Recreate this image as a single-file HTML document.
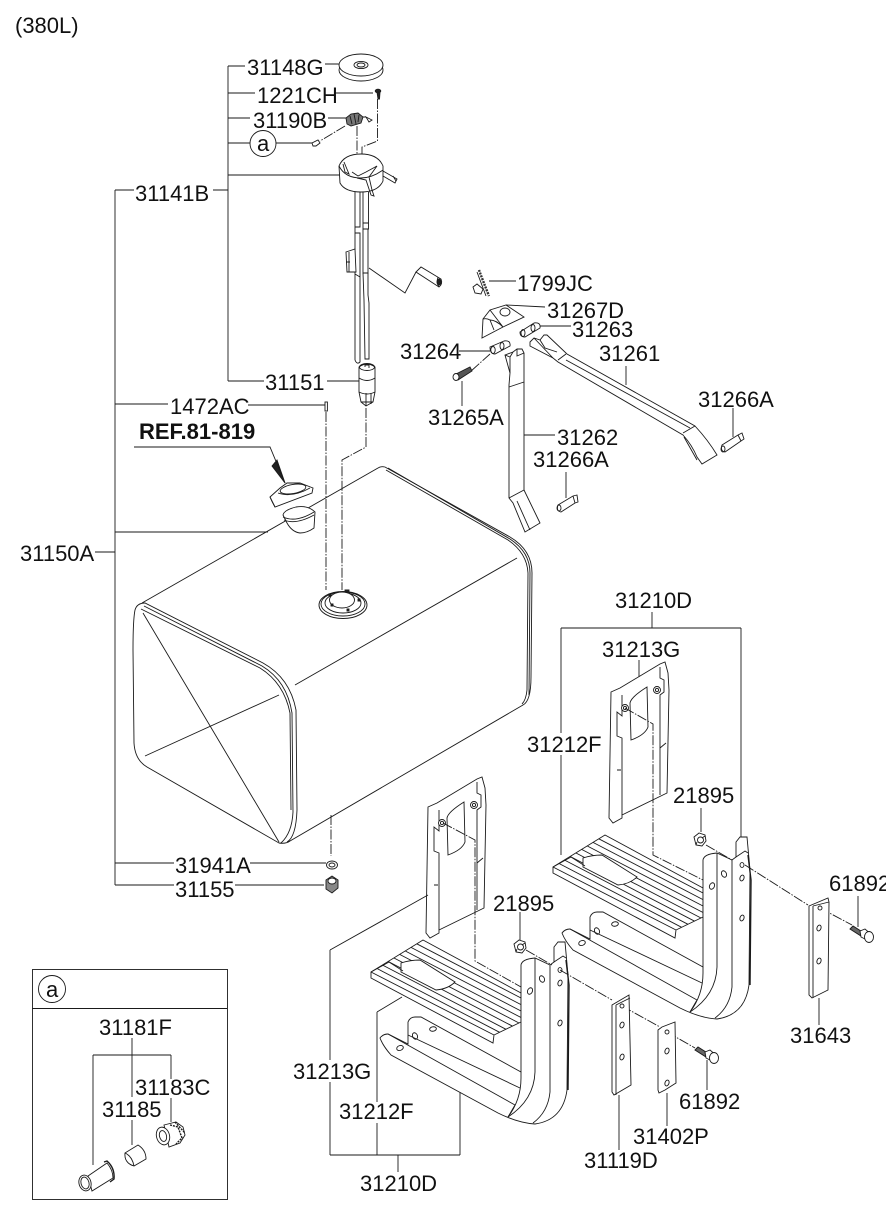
<!DOCTYPE html>
<html><head><meta charset="utf-8"><style>
html,body{margin:0;padding:0;background:#fff}
svg{display:block}
text{font-family:"Liberation Sans",sans-serif;font-size:22px;fill:#111}
.l{fill:none;stroke:#1a1a1a;stroke-width:.9}
.p{fill:#fff;stroke:#1a1a1a;stroke-width:.9}
.d{fill:none;stroke:#1a1a1a;stroke-width:.9;stroke-dasharray:10 1.5 1.5 1.5}
.k{fill:#222;stroke:#1a1a1a;stroke-width:.9}
</style></head><body>
<svg width="886" height="1211" viewBox="0 0 886 1211" xmlns="http://www.w3.org/2000/svg">
<defs>
<g id="plate">
<path class="p" d="M611,692 L620,688 L660,664 L665,662 L668,673 L669,690 L667,793 L622,815 L622,818 L613,823 L609,818 Z"/>
<path class="l" d="M660,667 L660,678 L664,680 L664,692 L660,695 L660,795"/>
<path class="l" d="M622,815 L622,738 L617,736 L617,712 L622,716 L622,695"/>
<path class="l" d="M630,703 Q631,697 647,687 L648,727 Q645,735 631,740 Z"/>
<path class="l" d="M617,770 L621,770 M660,748 L666,743"/>
<circle class="p" cx="625" cy="708" r="3.5"/><circle class="l" cx="625" cy="708" r="1.6"/>
<circle class="p" cx="657" cy="690" r="3.5"/><circle class="l" cx="657" cy="690" r="1.6"/>
</g>
<g id="step">
<path class="p" d="M553,867 L605,835 L703,888 L703,917 L676,930 L675,938 L553,873 Z"/>
<path class="l" d="M553,867 L676,930 M558.8,863.4 L681.6,927.3 M564.4,860 L688,924.3 M570,856.4 L694.6,921.2 M576,853 L701,918 M581.6,849.4 L703,912.5 M587.3,846 L703,906 M593,842.4 L703,899.6 M598.8,838.8 L703,893"/>
<path class="p" d="M583,858 L583,867 L618,885 Q630,884 637,877 L602,855 Q592,855 583,858 Z"/>
<path class="l" d="M553,867 L571,857 L585,866"/>
<path class="p" d="M562,933 Q565,929 570,929 L590,939 L590,917 Q592,912 597,912 L603,912 L703,967 L703,860 Q704,854 717,853 L732,860 L736,857 L736,842 L740,837 L747,837 L750,870 L749,985 Q745,1015 717,1019 Q700,1018 680,1008 L573,950 Q565,941 562,933 Z"/>
<path class="l" d="M590,930 L702,983"/>
<path class="l" d="M570,929 L697,1000 L690,1012"/>
<path class="l" d="M703,967 L703,973 Q703,995 690,1012"/>
<path class="l" d="M717,853 L717,967 Q716,995 690,1012"/>
<path class="l" d="M732,860 L732,987 Q730,1007 715,1018"/>
<path class="l" d="M736,857 L745,851 L748,853"/>
<path class="l" d="M748,855 L751,880 L750,985" style="stroke-width:1.4"/>
<ellipse class="l" cx="712" cy="886" rx="2.4" ry="3.4" transform="rotate(25 712 886)"/>
<ellipse class="l" cx="724" cy="874" rx="2.4" ry="3.4" transform="rotate(-25 724 874)"/>
<ellipse class="l" cx="742" cy="878" rx="2" ry="3" transform="rotate(20 742 878)"/>
<ellipse class="l" cx="742" cy="865" rx="2" ry="2.4"/>
<ellipse class="l" cx="742" cy="918" rx="2" ry="3" transform="rotate(20 742 918)"/>
<ellipse class="l" cx="582" cy="943" rx="3.4" ry="2.4" transform="rotate(-20 582 943)"/>
<ellipse class="l" cx="597" cy="931" rx="2.4" ry="3.4" transform="rotate(-25 597 931)"/>
<ellipse class="l" cx="615" cy="924" rx="3.4" ry="2.2" transform="rotate(-10 615 924)"/>
</g>
<g id="nut">
<path class="p" d="M-6,-3 L-1,-7 L5,-5 L6,1 L2,6 L-4,5 Z"/>
<circle class="l" cx="0.5" cy="0" r="3"/><path class="l" d="M2,-2 L5,-4 M-3,2 L-4,5"/>
</g>
<g id="bolt">
<path class="k" d="M0,0 L3,-3 L14,4 L11,7 Z" style="fill:#666"/>
<path class="p" d="M10,2 L15,0 L22,6 L17,11 L11,8 Z"/>
<ellipse class="p" cx="19" cy="8" rx="4.5" ry="5.5"/>
</g>
</defs>

<!-- Tank -->
<path class="l" d="M142,603 L378,468 Q381,466 385,467 L510,537 Q532,550 532,573 L531,677 Q531,701 523,705 L290,841 Q286,844 279,843 L147,767 Q135,760 134,743 L133,650 Q133,620 135,610 Q137,603 145,603 L263,663 Q290,678 296,710 L297,810 Q296,837 287,842"/>
<path class="l" d="M144,606 L262,666 Q287,681 292,713 L293,812 Q292,833 281,843"/>
<path class="l" d="M141,609 L260,668 Q284,683 290,713 L291,810"/>
<path class="l" d="M386,470 L508,540 Q527,553 528,573 L527,690 Q526,700 522,704"/>
<path class="l" d="M388,468 L510,539 Q530,552 530,573 L529,695"/>
<path class="l" d="M143,613 L279,842 M145,756 L279,695 M295,685 L517,558"/>
<ellipse class="l" cx="343" cy="605" rx="24" ry="13.5"/>
<ellipse class="l" cx="343" cy="604" rx="22" ry="12"/>
<ellipse class="l" cx="343" cy="603" rx="18" ry="10"/>
<ellipse class="p" cx="342" cy="600" rx="12.5" ry="8"/>
<path class="k" d="M345,590 h4 v2 h-4z M331,604 h2 v2 h-2z M347,609 h2 v2 h-2z M358,599 h2 v2 h-2z M329,594 h2 v2 h-2z"/>

<!-- cap and gasket -->
<path class="p" d="M270,497 L280,488 L287,483 L300,483 L313,488 L312,493 L275,507 Z"/>
<ellipse class="l" cx="293" cy="489" rx="13" ry="4.5" transform="rotate(-10 293 489)"/>
<path class="l" d="M278,493 Q292,498 310,488 M270,497 Q272,502 275,507"/>
<path class="p" d="M283,515 L287,523 Q292,532 300,533 Q307,533 314,528 L315,512 Q308,505 296,507 Q284,510 283,515 Z"/>
<path class="l" d="M283,517 Q296,523 314,512 M284,520 Q296,525 314,515"/>
<path class="k" d="M272,466 L277,460 L285,483 Z"/>
<path class="l" d="M134,447 L270,447 L285,483"/>

<!-- left leader lines -->
<path class="l" d="M228,66 L228,381 M228,66 L245,66 M228,93 L255,93 M228,118 L250,118 M228,143 L250,143 M228,175 L340,175 M228,381 L264,381 M213,190 L228,190"/>
<path class="l" d="M115,190 L115,885 M115,190 L134,190 M115,404 L168,404 M95,552 L115,552 M115,532 L268,532 M115,863 L174,863 M115,885 L174,885"/>
<path class="l" d="M325,64 L340,64 M335,93 L373,93 M328,118 L346,118 M276,143 L312,143 M327,381 L359,381 M248,405 L325,405"/>

<!-- Fuel sender -->
<ellipse class="p" cx="361" cy="70" rx="22" ry="11"/>
<ellipse class="p" cx="361" cy="65" rx="22" ry="11"/>
<ellipse class="l" cx="361" cy="65" rx="7" ry="3.6"/><ellipse class="l" cx="361" cy="65" rx="4" ry="2"/>
<ellipse class="k" cx="378" cy="91" rx="2.8" ry="1.8"/>
<path class="k" d="M377,92 L380,92 L379.5,99 L378,99 Z"/>
<path class="d" d="M377.5,99 L377.5,141 L362,147 L362,172 M357,126 L357,172 M345,126 L320,141"/>
<path class="k" d="M346,118 L351,114 L358,113 L363,117 L361,123 L351,126 L347,124 Z" style="fill:#777"/>
<path class="l" d="M350,116 L352,124 M354,114 L356,124 M359,115 L358,122"/>
<path class="l" d="M366,117 L372,120 L369,122 Z M363,117 L366,117"/>
<path class="p" d="M313,146 L312,143 L318,140 L320,143 L316,146 Z"/>
<path class="p" d="M339,166 L340,183 Q345,192 361,192 Q378,192 383,181 L383,166 Q378,154 361,154 Q344,154 339,166 Z"/>
<path class="l" d="M339,166 Q345,178 361,178 Q372,178 383,170"/>
<path class="l" d="M344,162 L349,174 L345,172 L343,164 M352,172 L358,176 L366,172 L377,166 L369,177 L372,190 L374,196 L371,195 L366,180 L357,178 M383,171 L397,179 L395,183 L383,176 M393,176 L396,181"/>
<path class="l" d="M355,192 L355,227 L360,227 L360,192 M355,233 L360,233 L360,277 L355,274 M355,227 L355,360 Q357,365 360,362 L360,277"/>
<path class="l" d="M363,192 L363,223 L368.5,223 L368.5,192 M363,223 L363,229 L368.5,229 L368.5,223 M363,229 L363,273 L368,273 L368,229"/>
<path class="l" d="M363,273 L364,300 L365,359 L369,359 L369,303 L368,295 L368,273"/>
<path class="p" d="M346,252 L355,249 L356,272 L347,272 Z"/><path class="l" d="M349,252 L349,272 M346,262 L350,262"/>
<path class="l" d="M369,268 L405,293 L416,272"/>
<path class="p" d="M416,272 L421,267 L441,279 Q443,284 439,287 Z" />
<path class="l" d="M438,277 Q436,283 439,287"/>
<ellipse class="k" cx="439" cy="282" rx="2" ry="3"/>

<!-- filter 31151 -->
<path class="p" d="M359,367 Q367,361 375,367 L375,392 L373,402 L366,406 L361,402 L359,392 Z"/>
<ellipse class="l" cx="367" cy="367" rx="7.5" ry="3.5"/>
<path class="l" d="M359,378 Q367,383 375,378 M359,392 Q367,396 375,392 M361,402 L373,402 M365,367 L365,365 L369,365 L369,368 M366,393 L366,406 M371,393 L371,404"/>
<path class="d" d="M366,408 L366,447 L342,460 L342,590"/>
<rect class="p" x="325" y="402" width="2.4" height="9"/>
<path class="d" d="M326,412 L326,590"/>

<!-- drain parts -->
<path class="d" d="M331,815 L331,856"/>
<ellipse class="p" cx="332" cy="865" rx="5.5" ry="4"/><ellipse class="l" cx="332" cy="865" rx="3" ry="2"/>
<path class="k" d="M326,880 L332,876 L338,880 L338,888 L332,893 L326,889 Z" style="fill:#888"/>
<ellipse class="k" cx="332" cy="881" rx="4" ry="3" style="fill:#fff"/>
<path class="l" d="M250,863 L326,863 M235,885 L324,885"/>

<!-- straps -->
<path class="l" d="M479,270 Q483,281 489,296" style="stroke-width:2.4;stroke-dasharray:2 1;stroke:#333"/>
<path class="l" d="M477,272 Q480,280 486,296"/>
<path class="p" d="M473,287 L477,284 L483,289 L481,294 L475,293 Z"/>
<path class="l" d="M489,281 L516,281"/>
<path class="p" d="M483,319 L490,310 L506,305 L524,317 L503,327 L482,338 Z"/>
<path class="l" d="M490,310 L503,327 M506,305 L545,307 M483,319 Q487,318 490,320 L494,330 M490,320 Q496,320 503,327"/>
<ellipse class="l" cx="505" cy="312" rx="5" ry="4"/>
<path class="p" d="M520,332 L534,323 Q541,322 540,328 L525,337 Q520,337 520,332 Z"/>
<ellipse class="l" cx="533" cy="328" rx="2" ry="3.5"/><ellipse class="l" cx="523" cy="333" rx="2" ry="3.5"/>
<path class="l" d="M540,326 L571,326"/>
<path class="p" d="M490,347 L504,341 Q511,340 510,346 L495,354 Q490,354 490,347 Z"/>
<ellipse class="l" cx="502" cy="346" rx="2" ry="3.5"/><ellipse class="l" cx="493" cy="350" rx="2.2" ry="3.5"/>
<path class="l" d="M459,351 L490,351"/>
<path class="d" d="M490,354 L470,372"/>
<path class="k" d="M454,375 L470,367 L472,371 L458,380 Z" style="fill:#555"/>
<ellipse class="p" cx="456" cy="377" rx="3" ry="3.5"/>
<path class="l" d="M462,381 L462,406"/>
<!-- 31262 -->
<path class="p" d="M505,355 L513,352 L517,349 L522,349 L524,353 L524,490 L540,523 L525,532 L513,503 L509,498 L509,385 L510,373 Z"/>
<path class="l" d="M505,355 L510,357 L510,373 M510,357 L513,352 M517,349 L517,356 L524,353 M509,387 L524,382 M509,498 L524,490 M517,501 L530,530"/>
<path class="l" d="M524,435 L555,435"/>
<!-- 31261 -->
<path class="p" d="M530,342 L534,338 L540,340 L544,335 L547,335 L567,354 L695,426 Q708,440 717,455 L702,464 L697,457 Q692,445 683,435 L558,362 L553,358 L530,346 Z"/>
<path class="l" d="M558,360 L566,354 M566,360 L690,428 M683,433 L695,426 M540,340 L545,348 L557,352 M534,338 L553,358 M684,437 L697,460"/>
<path class="l" d="M626,366 L626,385"/>
<!-- pins -->
<path class="p" d="M722,445 L738,435 L742,433 L744,439 L741,441 L725,452 Q720,451 722,445 Z"/>
<path class="l" d="M738,435 L741,441 M733,408 L733,437"/>
<ellipse class="l" cx="723" cy="449" rx="2" ry="3"/>
<path class="p" d="M558,505 L573,496 L577,495 L578,502 L575,503 L561,512 Q556,511 558,505 Z"/>
<path class="l" d="M573,496 L575,503 M566,472 L566,498"/>
<ellipse class="l" cx="559" cy="508" rx="2" ry="3"/>

<!-- Upper step assembly -->
<use href="#plate"/>
<use href="#step"/>
<path class="d" d="M625,708 L653,724 L653,855 L703,880"/>
<path class="l" d="M561,628 L741,628 M652,612 L652,628 M561,628 L561,733 M561,755 L561,855 M741,628 L741,837 M639,660 L639,677 M701,808 L701,832"/>
<use href="#nut" x="700" y="840"/>
<path class="d" d="M706,845 L732,860 M745,865 L808,905 M820,908 L852,925"/>
<path class="p" d="M809,906 L828,898 L829,902 L828,990 L812,998 L809,995 Z"/>
<path class="l" d="M813,906 L813,998 M813,906 L829,902"/>
<ellipse class="l" cx="820" cy="908" rx="2" ry="2"/><ellipse class="l" cx="819" cy="928" rx="2" ry="3" transform="rotate(20 819 928)"/><ellipse class="l" cx="819" cy="961" rx="2" ry="3" transform="rotate(20 819 961)"/>
<use href="#bolt" x="850" y="929"/>
<path class="l" d="M858,896 L858,927 M819,998 L819,1025"/>

<!-- Lower step assembly -->
<use href="#plate" transform="translate(-183,115)"/>
<use href="#step" transform="translate(-182,105)"/>
<path class="d" d="M443,823 L475,840 L475,961 L521,987"/>
<path class="l" d="M330,950 L428,895 M330,950 L330,1060 M330,1082 L330,1155 M377,1012 L402,997 M377,1012 L377,1102 M377,1123 L377,1155 M460,1092 L460,1155 M330,1155 L460,1155 M398,1155 L398,1172 M520,912 L520,940"/>
<use href="#nut" x="520" y="947"/>
<path class="d" d="M526,950 L552,965 M560,970 L612,1000 M622,1006 L660,1027 M667,1032 L695,1048"/>
<path class="p" d="M612,1005 L629,995 L631,1085 L614,1095 L612,1092 Z"/>
<path class="l" d="M616,1005 L616,1095 M616,1005 L630,998"/>
<ellipse class="l" cx="622" cy="1006" rx="2" ry="2"/><ellipse class="l" cx="622" cy="1025" rx="2" ry="3" transform="rotate(20 622 1025)"/><ellipse class="l" cx="622" cy="1057" rx="2" ry="3" transform="rotate(20 622 1057)"/>
<path class="p" d="M658,1030 L662,1027 L675,1022 L676,1083 L665,1090 L659,1093 L658,1090 Z"/>
<ellipse class="l" cx="667" cy="1032" rx="2" ry="2"/><ellipse class="l" cx="667" cy="1051" rx="2" ry="3" transform="rotate(20 667 1051)"/><ellipse class="l" cx="667" cy="1083" rx="2" ry="3" transform="rotate(20 667 1083)"/>
<use href="#bolt" x="695" y="1050"/>
<path class="l" d="M707,1060 L707,1090 M667,1093 L667,1126 M619,1095 L619,1150"/>

<!-- inset -->
<rect class="l" x="32.5" y="969.5" width="195" height="230"/>
<path class="l" d="M32,1008.5 L227,1008.5"/>
<circle class="l" cx="52" cy="989" r="13.5"/>
<circle class="l" cx="263" cy="143.5" r="13"/>
<path class="l" d="M132,1038 L132,1097 M132,1120 L132,1145 M93,1055 L171,1055 M93,1055 L93,1165 M171,1055 L171,1079 M171,1098 L171,1122"/>
<path class="p" d="M88,1176 L107,1163 Q113,1170 113,1178 L92,1191 Z"/>
<path class="l" d="M104,1162 L107,1161 Q115,1168 114,1179 L110,1182" style="stroke-width:1.4"/>
<ellipse class="p" cx="85" cy="1183" rx="6" ry="8" transform="rotate(-15 85 1183)"/>
<ellipse class="l" cx="85" cy="1183" rx="4" ry="6" transform="rotate(-15 85 1183)"/>
<path class="p" d="M125,1153 L138,1145 Q146,1150 146,1159 L134,1166 Q124,1163 125,1153 Z"/>
<path class="l" d="M125,1153 Q132,1156 134,1166"/>
<path class="p" d="M164,1125 L176,1122 L183,1127 L185,1135 L180,1143 L169,1147 Z"/>
<path class="l" d="M170,1125 L178,1127 L182,1138 L176,1144 M175,1122 L185,1133" style="stroke-dasharray:2 1;stroke-width:1.4"/>
<ellipse class="p" cx="163" cy="1136" rx="6.5" ry="9" transform="rotate(-15 163 1136)"/>
<ellipse class="l" cx="163" cy="1136" rx="3.5" ry="5.5" transform="rotate(-15 163 1136)"/>

<!-- labels -->
<text x="15" y="33">(380L)</text>
<text x="247" y="75">31148G</text>
<text x="257" y="103">1221CH</text>
<text x="253" y="128">31190B</text>
<text x="257" y="151">a</text>
<text x="135" y="201">31141B</text>
<text x="265" y="390">31151</text>
<text x="170" y="414">1472AC</text>
<text x="139" y="439" style="font-weight:bold">REF.81-819</text>
<text x="20" y="561">31150A</text>
<text x="175" y="873">31941A</text>
<text x="175" y="897">31155</text>
<text x="517" y="291">1799JC</text>
<text x="547" y="318">31267D</text>
<text x="572" y="337">31263</text>
<text x="400" y="359">31264</text>
<text x="599" y="361">31261</text>
<text x="698" y="407">31266A</text>
<text x="428" y="425">31265A</text>
<text x="557" y="445">31262</text>
<text x="533" y="467">31266A</text>
<text x="615" y="608">31210D</text>
<text x="602" y="657">31213G</text>
<text x="527" y="752">31212F</text>
<text x="673" y="803">21895</text>
<text x="829" y="891">61892</text>
<text x="790" y="1043">31643</text>
<text x="493" y="911">21895</text>
<text x="293" y="1079">31213G</text>
<text x="339" y="1119">31212F</text>
<text x="679" y="1109">61892</text>
<text x="633" y="1144">31402P</text>
<text x="584" y="1168">31119D</text>
<text x="360" y="1191">31210D</text>
<text x="46" y="997">a</text>
<text x="99" y="1035">31181F</text>
<text x="135" y="1095">31183C</text>
<text x="102" y="1117">31185</text>
</svg>
</body></html>
